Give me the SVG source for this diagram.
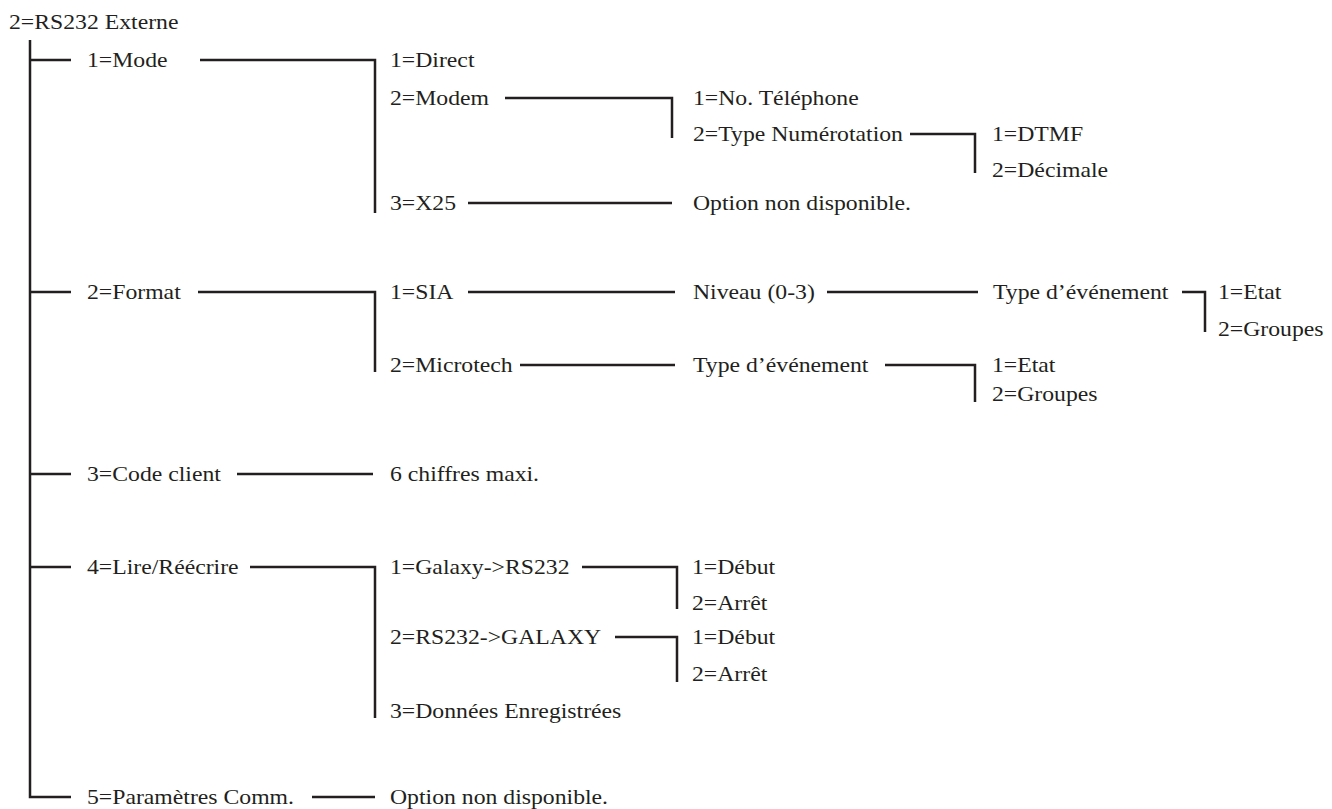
<svg xmlns="http://www.w3.org/2000/svg" width="1332" height="809" viewBox="0 0 1332 809">
<style>
text{font-family:"Liberation Serif","Times New Roman",serif;font-size:21px;fill:#231f20}
.c{stroke:#231f20;stroke-width:2.5;fill:none;stroke-linecap:butt}
</style>
<rect width="1332" height="809" fill="#fff"/>
<g id="connectors" class="c">
<path d="M30 40V797H71"/>
<path d="M30 60H71M30 292H71M30 474H71M30 567H71"/>
<path d="M200 60H375V213"/>
<path d="M505 98H672V138"/>
<path d="M910 134H975V173"/>
<path d="M468 203H672"/>
<path d="M198 292H375V372"/>
<path d="M468 292H675"/>
<path d="M827 292H978"/>
<path d="M1182 292H1205V332"/>
<path d="M520 365H675"/>
<path d="M885 365H975V402"/>
<path d="M237 474H373"/>
<path d="M250 567H375V718"/>
<path d="M582 567H677V609"/>
<path d="M615 637H677V682"/>
<path d="M312 797H375"/>
</g>
<g id="root"><text transform="translate(9 29) scale(1.13 1)">2=RS232 Externe</text></g>
<g id="mode"><text transform="translate(87 67) scale(1.13 1)">1=Mode</text></g>
<g id="direct"><text transform="translate(390 67) scale(1.13 1)">1=Direct</text></g>
<g id="modem"><text transform="translate(390 105) scale(1.13 1)">2=Modem</text></g>
<g id="telephone"><text transform="translate(693 105) scale(1.13 1)">1=No. Téléphone</text></g>
<g id="numerotation"><text transform="translate(693 141) scale(1.13 1)">2=Type Numérotation</text></g>
<g id="dtmf"><text transform="translate(992 141) scale(1.13 1)">1=DTMF</text></g>
<g id="decimale"><text transform="translate(992 177) scale(1.13 1)">2=Décimale</text></g>
<g id="x25"><text transform="translate(390 210) scale(1.13 1)">3=X25</text></g>
<g id="x25-opt"><text transform="translate(693 210) scale(1.13 1)">Option non disponible.</text></g>
<g id="format"><text transform="translate(87 299) scale(1.13 1)">2=Format</text></g>
<g id="sia"><text transform="translate(390 299) scale(1.13 1)">1=SIA</text></g>
<g id="niveau"><text transform="translate(693 299) scale(1.13 1)">Niveau (0-3)</text></g>
<g id="sia-type"><text transform="translate(993 299) scale(1.13 1)">Type d’événement</text></g>
<g id="sia-etat"><text transform="translate(1218 299) scale(1.13 1)">1=Etat</text></g>
<g id="sia-groupes"><text transform="translate(1218 336) scale(1.13 1)">2=Groupes</text></g>
<g id="microtech"><text transform="translate(390 372) scale(1.13 1)">2=Microtech</text></g>
<g id="mt-type"><text transform="translate(693 372) scale(1.13 1)">Type d’événement</text></g>
<g id="mt-etat"><text transform="translate(992 372) scale(1.13 1)">1=Etat</text></g>
<g id="mt-groupes"><text transform="translate(992 401) scale(1.13 1)">2=Groupes</text></g>
<g id="code"><text transform="translate(87 481) scale(1.13 1)">3=Code client</text></g>
<g id="code-opt"><text transform="translate(390 481) scale(1.13 1)">6 chiffres maxi.</text></g>
<g id="lire"><text transform="translate(87 574) scale(1.13 1)">4=Lire/Réécrire</text></g>
<g id="galaxy-rs"><text transform="translate(390 574) scale(1.13 1)">1=Galaxy-&gt;RS232</text></g>
<g id="g-debut"><text transform="translate(692 574) scale(1.13 1)">1=Début</text></g>
<g id="g-arret"><text transform="translate(692 610) scale(1.13 1)">2=Arrêt</text></g>
<g id="rs-galaxy"><text transform="translate(390 644) scale(1.13 1)">2=RS232-&gt;GALAXY</text></g>
<g id="r-debut"><text transform="translate(692 644) scale(1.13 1)">1=Début</text></g>
<g id="r-arret"><text transform="translate(692 681) scale(1.13 1)">2=Arrêt</text></g>
<g id="donnees"><text transform="translate(390 718) scale(1.13 1)">3=Données Enregistrées</text></g>
<g id="params"><text transform="translate(87 804) scale(1.13 1)">5=Paramètres Comm.</text></g>
<g id="params-opt"><text transform="translate(390 804) scale(1.13 1)">Option non disponible.</text></g>
</svg>
